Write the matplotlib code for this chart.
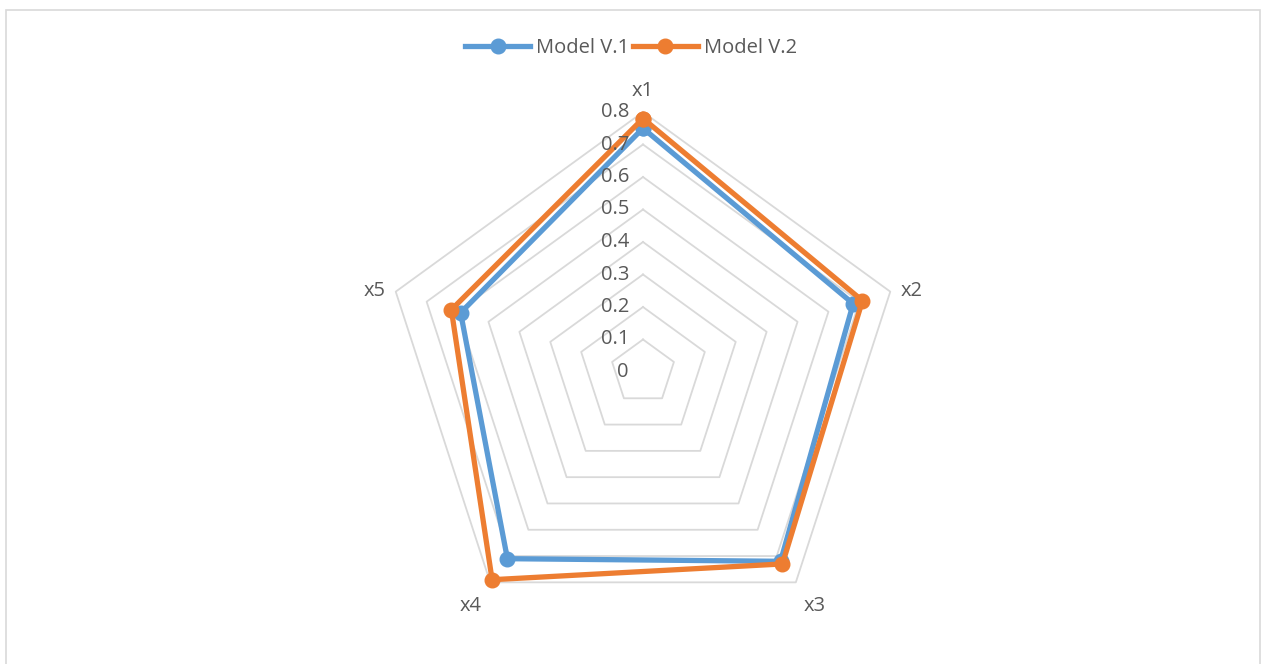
import numpy as np
import matplotlib
matplotlib.use("Agg")
import matplotlib.pyplot as plt
from matplotlib.patches import Rectangle
from matplotlib.lines import Line2D
import matplotlib.transforms as mtransforms

categories = ["x1", "x2", "x3", "x4", "x5"]
model_v1 = [0.75, 0.68, 0.72, 0.71, 0.59]
model_v2 = [0.78, 0.71, 0.73, 0.79, 0.62]
series_names = ["Model V.1", "Model V.2"]
tick_values = [0, 0.1, 0.2, 0.3, 0.4, 0.5, 0.6, 0.7, 0.8]
tick_labels = ["0", "0.1", "0.2", "0.3", "0.4", "0.5", "0.6", "0.7", "0.8"]

plt.rcParams['font.family'] = ['Open Sans', 'DejaVu Sans']

W, H = 1267, 664
fig = plt.figure(figsize=(W / 100, H / 100), dpi=100)

# outer border
fig.patches.append(Rectangle((6 / W, -0.01), (1260 - 6) / W, (H - 10) / H + 0.01,
                             transform=fig.transFigure, fill=False,
                             edgecolor="#D9D9D9", linewidth=1.2))

cx, cy, R = 643, 372, 260
ax = fig.add_axes([(cx - R) / W, (H - cy - R) / H, 2 * R / W, 2 * R / H], polar=True)
ax.set_theta_offset(np.pi / 2)
ax.set_theta_direction(-1)
ax.set_ylim(0, 0.8)
ax.grid(False)
ax.spines['polar'].set_visible(False)
ax.set_xticks([])
ax.set_yticks([])
ax.patch.set_alpha(0)

n = len(categories)
angles = np.linspace(0, 2 * np.pi, n, endpoint=False)
closed = np.concatenate([angles, angles[:1]])

# pentagon gridlines
for v in tick_values[1:]:
    ax.plot(closed, [v] * (n + 1), color="#D9D9D9", linewidth=1.3, zorder=1, clip_on=False)

colors = ["#5B9BD5", "#ED7D31"]
for vals, col, name in zip([model_v1, model_v2], colors, series_names):
    v = list(vals) + [vals[0]]
    ax.plot(closed, v, color=col, linewidth=3.8, marker="o", markersize=10.5,
            zorder=3, clip_on=False, label=name)

fs = 14.5
# tick labels
off = mtransforms.offset_copy(ax.transData, fig=fig, x=-14, y=0, units="dots")
for v, lab in zip(tick_values, tick_labels):
    ax.text(0, v, lab, transform=off, ha="right", va="center",
            fontsize=fs, color="#595959", clip_on=False)

# category labels (offset from outer vertex, in pixels)
label_offsets = [(0, 21), (21, 1), (19, -24), (-20, -24), (-21, 1)]
for a, c, (dx, dy) in zip(angles, categories, label_offsets):
    t = mtransforms.offset_copy(ax.transData, fig=fig, x=dx, y=dy, units="dots")
    ax.text(a, 0.8, c, transform=t, ha="center", va="center", fontsize=fs,
            color="#595959", clip_on=False)

handles = [Line2D([0], [0], color=col, linewidth=3.8, marker="o", markersize=10.5)
           for col in colors]
fig.legend(handles, series_names, loc="center", bbox_to_anchor=(631 / W, 1 - 48 / H),
           ncol=2, frameon=False, fontsize=fs, labelcolor="#595959",
           handlelength=3.2, handletextpad=0.3, columnspacing=0.2)

fig.savefig("out.png", dpi=100, facecolor="white")
